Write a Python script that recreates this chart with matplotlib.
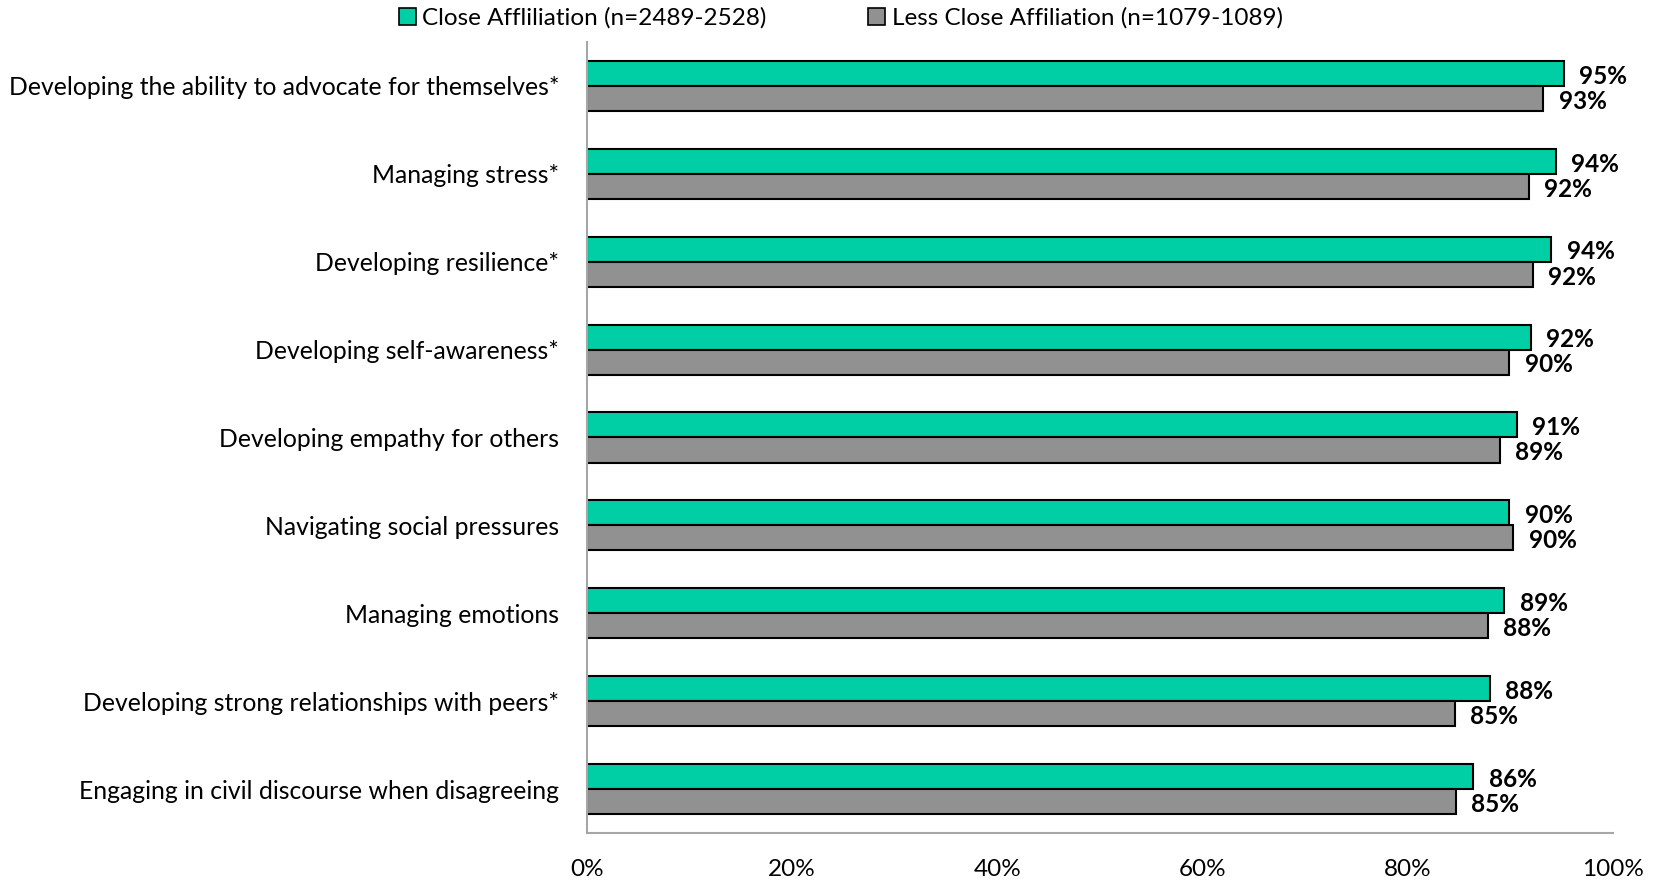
import matplotlib
matplotlib.use("Agg")
import matplotlib.pyplot as plt
import numpy as np
from matplotlib.patches import Patch

categories = [
    "Developing the ability to advocate for themselves*",
    "Managing stress*",
    "Developing resilience*",
    "Developing self-awareness*",
    "Developing empathy for others",
    "Navigating social pressures",
    "Managing emotions",
    "Developing strong relationships with peers*",
    "Engaging in civil discourse when disagreeing",
]
close_vals = [95.2, 94.4, 94.0, 92.0, 90.6, 89.9, 89.4, 88.0, 86.4]
less_close_vals = [93.2, 91.8, 92.2, 89.9, 89.0, 90.3, 87.8, 84.6, 84.7]
series_names = ["Close Affliliation (n=2489-2528)", "Less Close Affiliation (n=1079-1089)"]
xticks = [0, 20, 40, 60, 80, 100]

GREEN = "#00CFA5"
GRAY = "#919191"

plt.rcParams["font.family"] = ["Lato", "DejaVu Sans"]

fig = plt.figure(figsize=(16.55, 8.8), dpi=100)
ax = fig.add_axes([587 / 1655, 1 - 833 / 880, (1613 - 587) / 1655, (833 - 42) / 880])

y = np.arange(len(categories))
h = 0.285
ax.barh(y - h / 2, close_vals, height=h, color=GREEN, edgecolor="black", linewidth=1.5)
ax.barh(y + h / 2, less_close_vals, height=h, color=GRAY, edgecolor="black", linewidth=1.5)

for yi, v in zip(y, close_vals):
    ax.annotate(f"{v:.0f}%", (v, yi - h / 2), xytext=(11, -2), textcoords="offset points",
                ha="left", va="center", fontsize=17.5, fontweight="bold")
for yi, v in zip(y, less_close_vals):
    ax.annotate(f"{v:.0f}%", (v, yi + h / 2), xytext=(11, -2), textcoords="offset points",
                ha="left", va="center", fontsize=17.5, fontweight="bold")

ax.set_xlim(0, 100)
ax.set_ylim(len(categories) - 0.5, -0.5)
ax.set_yticks(y)
ax.set_yticklabels(categories, fontsize=17.8)
ax.set_xticks(xticks)
ax.set_xticklabels([f"{t}%" for t in xticks], fontsize=17.5)
ax.tick_params(axis="both", length=0)
ax.tick_params(axis="y", pad=20)
ax.tick_params(axis="x", pad=18.5)

for side in ["top", "right"]:
    ax.spines[side].set_visible(False)
for side in ["left", "bottom"]:
    ax.spines[side].set_color("#A6A6A6")
    ax.spines[side].set_linewidth(1.5)

handles = [Patch(facecolor=GREEN, edgecolor="black", linewidth=1.2),
           Patch(facecolor=GRAY, edgecolor="black", linewidth=1.2)]
fig.legend(handles, series_names, loc="upper center", bbox_to_anchor=(0.508, 1.0), ncol=2,
           frameon=False, fontsize=17.5, handlelength=0.7, handleheight=0.7,
           handletextpad=0.25, columnspacing=4.2, borderaxespad=0.1, borderpad=0.2)

fig.savefig("out.png", dpi=100)
